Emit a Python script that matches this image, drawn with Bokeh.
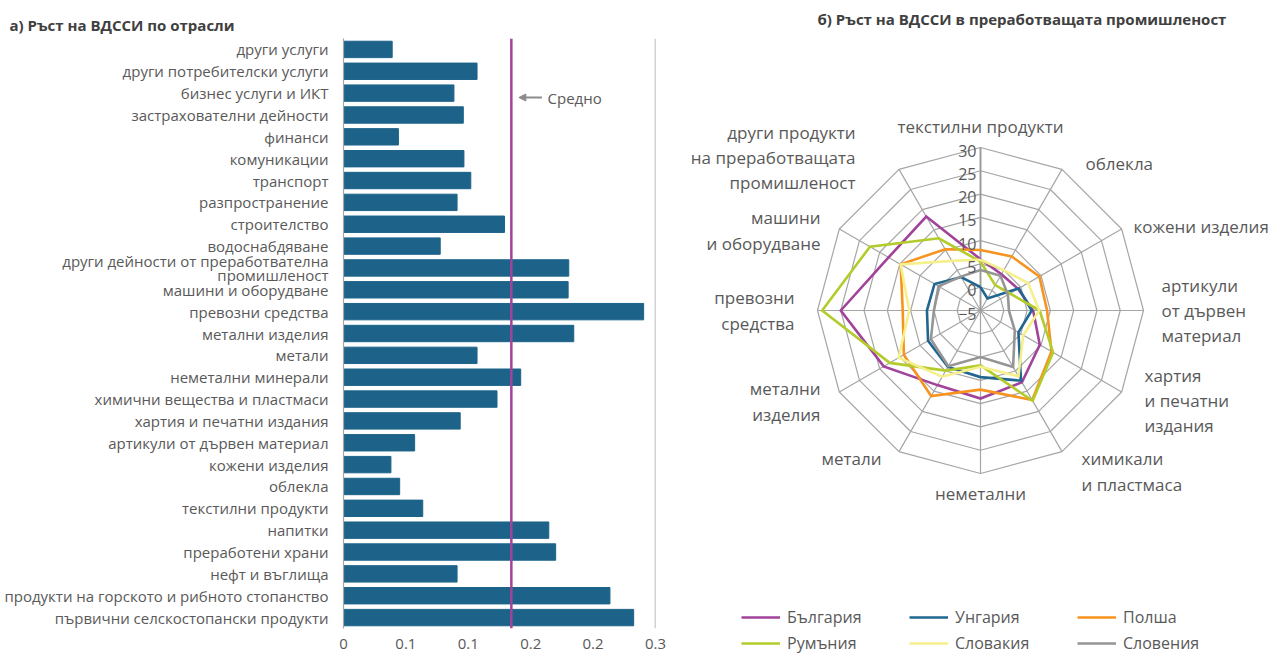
import numpy as np
from bokeh.plotting import figure
from bokeh.models import (Range1d, FixedTicker, Span, Arrow, NormalHead, Label,
                          Legend, LegendItem)
from bokeh.layouts import row
from bokeh.embed import file_html
from bokeh.resources import INLINE

# ---------------- data: panel a ----------------
sectors = [
    "други услуги", "други потребителски услуги", "бизнес услуги и ИКТ",
    "застрахователни дейности", "финанси", "комуникации", "транспорт",
    "разпространение", "строителство", "водоснабдяване",
    "други дейности от преработвателна\nпромишленост", "машини и оборудване",
    "превозни средства", "метални изделия", "метали", "неметални минерали",
    "химични вещества и пластмаси", "хартия и печатни издания",
    "артикули от дървен материал", "кожени изделия", "облекла",
    "текстилни продукти", "напитки", "преработени храни", "нефт и въглища",
    "продукти на горското и рибното стопанство",
    "първични селскостопански продукти",
]
growth = [0.039, 0.107, 0.0885, 0.096, 0.044, 0.0965, 0.102, 0.091, 0.129,
          0.0775, 0.1805, 0.180, 0.2405, 0.1845, 0.107, 0.142, 0.123, 0.0935,
          0.057, 0.038, 0.045, 0.0635, 0.1645, 0.170, 0.091, 0.2135, 0.2325]
average = 0.1345
x_ticks = [0, 0.05, 0.1, 0.15, 0.2, 0.25]
x_tick_labels = ["0", "0.1", "0.1", "0.2", "0.2", "0.3"]

# ---------------- data: panel b ----------------
radar_categories = [
    "текстилни продукти", "облекла", "кожени изделия",
    "артикули\nот дървен\nматериал", "хартия\nи печатни\nиздания",
    "химикали\nи пластмаса", "неметални", "метали", "метални\nизделия",
    "превозни\nсредства", "машини\nи оборудване",
    "други продукти\nна преработващата\nпромишленост",
]
bulgaria = [6.0, 4.0, 4.3, 6.3, 9.7, 12.8, 13.9, 13.5, 19.0, 25.0, 17.8, 18.3]
hungary = [0.0, -2.0, 4.5, 6.0, 4.4, 12.4, 9.3, 9.0, 8.0, 6.5, 6.4, 3.3]
poland = [8.0, 8.4, 9.6, 9.3, 12.6, 17.2, 12.0, 16.2, 14.0, 11.7, 14.8, 10.2]
romania = [5.5, 1.3, 2.3, 7.7, 13.0, 17.4, 6.8, 9.9, 17.5, 29.0, 22.4, 12.9]
slovakia = [5.9, 5.0, 6.8, 7.6, 5.6, 11.3, 7.1, 11.4, 15.3, 10.3, 14.8, 7.3]
slovenia = [3.7, 3.6, 1.8, 1.1, 3.5, 9.0, 5.0, 8.8, 7.3, 5.0, 5.4, 3.4]
countries = ["България", "Унгария", "Полша", "Румъния", "Словакия", "Словения"]
radar_ticks = [-5, 0, 5, 10, 15, 20, 25, 30]
radar_tick_labels = ["−5", "0", "5", "10", "15", "20", "25", "30"]

# ---------------- styles ----------------
FONT = "Open Sans"
TXT = "#595959"
GRID = "#a6a6a6"
BAR = "#1d6389"
PURPLE = "#a1439b"
colors = ["#a1439b", "#1f6690", "#f7931e", "#b3cb2b", "#f5ef8c", "#959595"]

PAGE_H = 657
TOP, FRAME_H = 38, 590
BOTTOM = PAGE_H - TOP - FRAME_H

# ================= panel a: horizontal bars =================
n = len(sectors)
idx = list(range(n))
p1 = figure(frame_width=312, frame_height=FRAME_H,
            min_border_left=343, min_border_right=33,
            min_border_top=TOP, min_border_bottom=BOTTOM,
            x_range=Range1d(0, 0.25), y_range=Range1d(n - 0.5, -0.5),
            output_backend="svg", toolbar_location=None)
p1.hbar(y=idx, left=0, right=growth, height=0.75, color=BAR)

p1.xgrid.visible = False
p1.ygrid.visible = False
p1.outline_line_color = None

p1.xaxis.ticker = FixedTicker(ticks=x_ticks)
p1.xaxis.major_label_overrides = dict(zip(x_ticks, x_tick_labels))
p1.xaxis.axis_line_color = None
p1.xaxis.major_tick_line_color = None
p1.xaxis.minor_tick_line_color = None
p1.xaxis.major_label_text_font = FONT
p1.xaxis.major_label_text_font_size = "15px"
p1.xaxis.major_label_text_color = TXT
p1.xaxis.major_label_standoff = 4

p1.yaxis.ticker = FixedTicker(ticks=idx)
p1.yaxis.major_label_overrides = {i: s for i, s in zip(idx, sectors)}
p1.yaxis.axis_line_color = GRID
p1.yaxis.axis_line_width = 1.2
p1.yaxis.major_tick_line_color = None
p1.yaxis.minor_tick_line_color = None
p1.yaxis.major_label_text_font = FONT
p1.yaxis.major_label_text_font_size = "15px"
p1.yaxis.major_label_text_color = TXT
p1.yaxis.major_label_text_line_height = 0.72
p1.yaxis.major_label_standoff = 9

p1.add_layout(Span(location=x_ticks[-1], dimension="height",
                   line_color=GRID, line_width=1.5))
p1.add_layout(Span(location=average, dimension="height",
                   line_color=PURPLE, line_width=2.5))
p1.add_layout(Arrow(end=NormalHead(size=7, fill_color="#8c8c8c",
                                   line_color="#8c8c8c"),
                    x_start=0.159, y_start=2.2, x_end=0.1405, y_end=2.2,
                    line_color="#8c8c8c", line_width=2))
p1.add_layout(Label(x=0.1635, y=2.2, text="Средно", text_font=FONT,
                    text_font_size="15px", text_color=TXT,
                    text_baseline="middle", text_align="left"))

p1.title.text = "а) Ръст на ВДССИ по отрасли"
p1.title.text_font = FONT
p1.title.text_font_size = "15px"
p1.title.text_font_style = "bold"
p1.title.text_color = "#404040"
p1.title.offset = -334
p1.title.standoff = 8

# ================= panel b: radar =================
K = 163.0 / 35.0  # px per value unit
P2_W = 591
CX, CY = 292, 310   # centre, px from left / top of the panel
p2 = figure(width=P2_W, height=PAGE_H, min_border=0,
            x_range=Range1d(-CX / K, (P2_W - CX) / K),
            y_range=Range1d(-(PAGE_H - CY) / K, CY / K),
            output_backend="svg", toolbar_location=None)
p2.axis.visible = False
p2.grid.visible = False
p2.outline_line_color = None
for p in (p1, p2):
    if "frame_align" in p.properties():
        p.frame_align = False

m = len(radar_categories)
ang = np.arange(m) * 2 * np.pi / m
base = radar_ticks[0]
top_r = radar_ticks[-1] - base

# rings
for t in radar_ticks[1:]:
    r = t - base
    xs = list(r * np.sin(ang)) + [r * np.sin(ang[0])]
    ys = list(r * np.cos(ang)) + [r * np.cos(ang[0])]
    p2.line(xs, ys, line_color=GRID, line_width=1.2)
# spokes
p2.segment(x0=[0] * m, y0=[0] * m, x1=list(top_r * np.sin(ang)),
           y1=list(top_r * np.cos(ang)), line_color=GRID, line_width=1.2)
p2.segment(x0=[0], y0=[0], x1=[0], y1=[top_r], line_color="#9a9a9a",
           line_width=1.8)

# series
series = [bulgaria, hungary, poland, romania, slovakia, slovenia]
renderers = []
for vals, c in zip(series, colors):
    r = np.array(vals) - base
    xs = list(r * np.sin(ang)) + [r[0] * np.sin(ang[0])]
    ys = list(r * np.cos(ang)) + [r[0] * np.cos(ang[0])]
    renderers.append(p2.line(xs, ys, line_color=c, line_width=2.6,
                             line_join="miter"))

# ring value labels
for t, lab in zip(radar_ticks, radar_tick_labels):
    p2.add_layout(Label(x=-4 / K, y=(t - base) - 3 / K, text=lab,
                        text_font=FONT, text_font_size="16px",
                        text_color=TXT, text_align="right",
                        text_baseline="middle"))

# category labels (placement offsets in px from centre)
label_pos = [(0, 184, "center"), (105, 147, "left"), (153, 84, "left"),
             (181, 0, "left"), (164, -90, "left"), (101, -161, "left"),
             (0, -183, "center"), (-99, -148, "right"), (-160, -91, "right"),
             (-186, 0, "right"), (-160, 80, "right"), (-125, 153, "right")]
for name, (dx, dy, al) in zip(radar_categories, label_pos):
    p2.add_layout(Label(x=dx / K, y=dy / K, text=name, text_font=FONT,
                        text_font_size="17px", text_color=TXT,
                        text_align=al, text_baseline="middle",
                        text_line_height=1.1))

p2.add_layout(Label(x=-163 / K, y=292 / K,
                    text="б) Ръст на ВДССИ в преработващата промишленост",
                    text_font=FONT, text_font_size="15px",
                    text_font_style="bold", text_color="#404040",
                    text_align="left", text_baseline="middle"))

legend = Legend(items=[LegendItem(label=c, renderers=[r])
                       for c, r in zip(countries, renderers)],
                ncols=3, location=(53, 1), orientation="horizontal",
                glyph_width=39, glyph_height=26, label_height=26,
                label_width=122, label_standoff=7, spacing=0, padding=0,
                margin=0, border_line_alpha=0, background_fill_alpha=0,
                label_text_font=FONT, label_text_font_size="16px",
                label_text_color=TXT)
p2.add_layout(legend)

layout = row(p1, p2)
open("out.html", "w").write(file_html(layout, INLINE))
